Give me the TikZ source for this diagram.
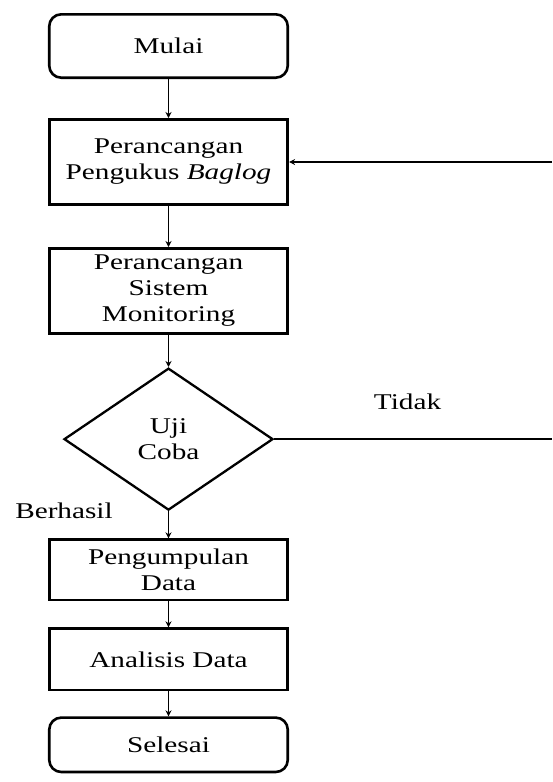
\documentclass[tikz,border=0pt]{standalone}
\usepackage{fontspec}
\setmainfont{Liberation Serif}[FakeStretch=1.3]
\usetikzlibrary{shapes.geometric, arrows.meta, positioning}

\begin{document}
\begin{tikzpicture}[
        x=1pt, y=1pt,
        font=\fontsize{22.5}{26}\selectfont,
        proses/.style={rectangle, draw, line width=2.6pt, align=center, minimum width=238.5pt, inner sep=2pt},
        terminal/.style={proses, rounded corners=12pt},
        keputusan/.style={diamond, draw, line width=2.3pt, align=center, minimum width=209pt, minimum height=142pt, inner sep=0pt},
        lbl/.style={inner sep=0pt},
        garis/.style={line width=1.5pt},
        arrow/.style={garis, -{Stealth[length=6pt, width=6pt]}}
    ]
    \useasboundingbox (0,0) rectangle (552,-782);

    % Nodes
    \node (mulai) [terminal, minimum height=63.4pt] at (168.5,-46) {Mulai};
    \node (baglog) [proses, minimum height=85.4pt, below=39pt of mulai] {Perancangan\\Pengukus \textit{Baglog}};
    \node (sistem) [proses, minimum height=85.4pt, below=41pt of baglog] {Perancangan\\Sistem\\Monitoring};
    \node (uji) [keputusan, below=32pt of sistem] {Uji\\Coba};
    \node (kumpul) [proses, minimum height=60.4pt, below=27pt of uji] {Pengumpulan\\Data};
    \node (analisis) [proses, minimum height=61.4pt, below=26pt of kumpul] {Analisis Data};
    \node (selesai) [terminal, minimum height=54.4pt, below=25pt of analisis] {Selesai};

    \node (berhasil) [lbl] at (64,-511) {Berhasil};

    % loop ends at the right edge
    \coordinate (kanan) at (552,0);
    \coordinate (balik) at (kanan |- baglog);
    \coordinate (ujung) at (kanan |- uji);

    % Arrows
    \draw [arrow] (mulai) -- (baglog);
    \draw [arrow] (baglog) -- (sistem);
    \draw [arrow] (sistem) -- (uji);
    \draw [arrow] (uji) -- (kumpul);
    \draw [arrow] (kumpul) -- (analisis);
    \draw [arrow] (analisis) -- (selesai);

    % Tidak
    \draw [garis] (uji) -- node[lbl, pos=0.48, above=29pt] (tidak) {Tidak} (ujung);
    \draw [arrow] (balik) -- (baglog);

\end{tikzpicture}
\end{document}
